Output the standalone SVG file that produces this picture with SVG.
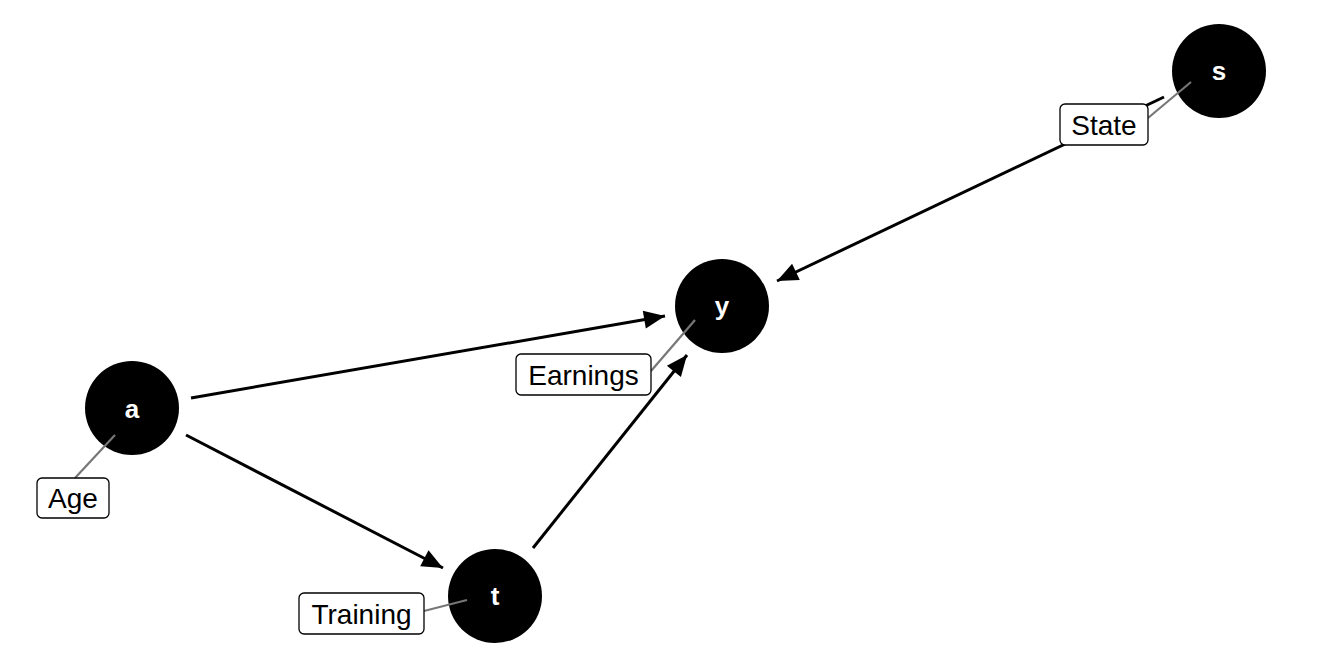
<svg xmlns="http://www.w3.org/2000/svg" width="1344" height="672" viewBox="0 0 1344 672">
<defs>
<style>
.edge{stroke:#000;stroke-width:3;fill:none}
.lead{stroke:#777;stroke-width:2.2;fill:none}
.node{fill:#000}
.nlab{fill:#fff;font-family:"Liberation Sans",Arial,sans-serif;font-weight:bold;font-size:26px;text-anchor:middle}
.box{fill:#fff;stroke:#000;stroke-width:1.3}
.blab{fill:#000;font-family:"Liberation Sans",Arial,sans-serif;font-size:28px;text-anchor:middle}
</style>
<marker id="arr" markerUnits="userSpaceOnUse" markerWidth="26" markerHeight="22" viewBox="0 0 26 22" refX="23" refY="11" orient="auto">
<path d="M2,2 L23,11 L2,20 Z" fill="#000"/>
</marker>
</defs>
<rect width="1344" height="672" fill="#fff"/>
<g id="connectors">
<line class="edge" x1="1164" y1="97" x2="777" y2="281" marker-end="url(#arr)"/>
<line class="edge" x1="191" y1="398" x2="665" y2="316" marker-end="url(#arr)"/>
<line class="edge" x1="186" y1="435" x2="443" y2="568" marker-end="url(#arr)"/>
<line class="edge" x1="533" y1="548" x2="687" y2="355" marker-end="url(#arr)"/>
</g>
<g id="node-s"><circle class="node" cx="1219" cy="71" r="47"/><text class="nlab" x="1219" y="80">s</text></g>
<g id="node-y"><circle class="node" cx="722" cy="306" r="47"/><text class="nlab" x="722" y="315">y</text></g>
<g id="node-a"><circle class="node" cx="132" cy="408" r="47"/><text class="nlab" x="132" y="418">a</text></g>
<g id="node-t"><circle class="node" cx="495" cy="596" r="47"/><text class="nlab" x="495" y="605">t</text></g>
<g id="label-state"><line class="lead" x1="1148" y1="118" x2="1191" y2="82"/><rect class="box" x="1060" y="104" width="88" height="41" rx="5"/><text class="blab" x="1104" y="134.5">State</text></g>
<g id="label-earnings"><line class="lead" x1="651" y1="371" x2="695" y2="320"/><rect class="box" x="516" y="354" width="135" height="41" rx="5"/><text class="blab" x="583.5" y="384.5">Earnings</text></g>
<g id="label-age"><line class="lead" x1="75" y1="478" x2="115" y2="435"/><rect class="box" x="37" y="478" width="72" height="40" rx="5"/><text class="blab" x="73" y="508">Age</text></g>
<g id="label-training"><line class="lead" x1="424" y1="611" x2="467" y2="600"/><rect class="box" x="299" y="593" width="125" height="41" rx="5"/><text class="blab" x="361.5" y="623.5">Training</text></g>
</svg>
